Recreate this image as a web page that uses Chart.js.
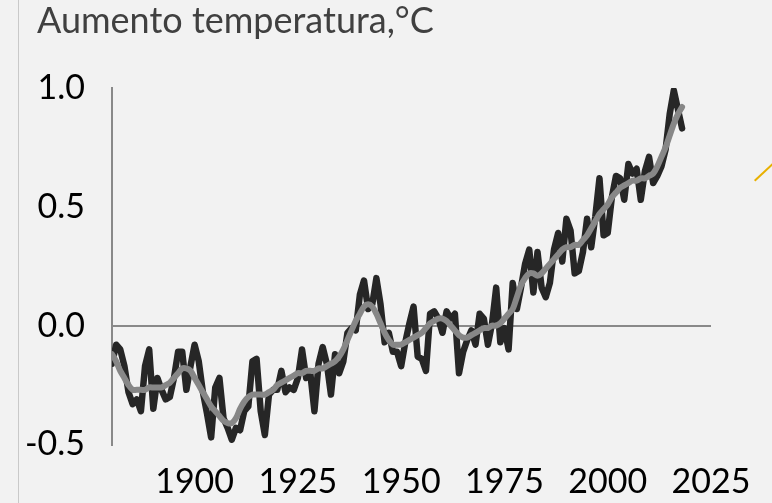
<!DOCTYPE html>
<html>
<head>
<meta charset="utf-8">
<script src="https://cdn.jsdelivr.net/npm/chart.js@4"></script>
<style>
  html, body { margin: 0; padding: 0; background: #f2f2f2; }
  #wrap { position: relative; width: 772px; height: 503px; overflow: hidden; }
  #edge { position: absolute; left: 18px; top: 0; width: 1px; height: 503px; background: #c9c9c9; }
  #mark { position: absolute; left: 754px; top: 180px; width: 25px; height: 1.5px; background: #e8b000; transform: rotate(-43deg); transform-origin: 0 0; }
</style>
</head>
<body>
<div id="wrap">
  <div id="edge"></div>
  <div id="mark"></div>
  <canvas id="tempChart" width="772" height="503"></canvas>
</div>
<script>
// Anomalia annua della temperatura globale (°C), 1880-2018
const anni = [];
for (let a = 1880; a <= 2018; a++) anni.push(a);

const annuale = [
  -0.16, -0.08, -0.10, -0.17, -0.28, -0.33, -0.31, -0.36, -0.17, -0.10,
  -0.35, -0.22, -0.27, -0.31, -0.30, -0.22, -0.11, -0.11, -0.27, -0.17,
  -0.08, -0.15, -0.28, -0.37, -0.47, -0.26, -0.22, -0.39, -0.43, -0.48,
  -0.43, -0.44, -0.36, -0.34, -0.15, -0.14, -0.36, -0.46, -0.29, -0.27,
  -0.27, -0.19, -0.28, -0.26, -0.27, -0.22, -0.10, -0.22, -0.20, -0.36,
  -0.16, -0.09, -0.16, -0.29, -0.12, -0.20, -0.15, -0.03, -0.01, -0.02,
   0.13,  0.19,  0.07,  0.09,  0.20,  0.09, -0.07, -0.03, -0.11, -0.11,
  -0.17, -0.07,  0.01,  0.08, -0.13, -0.14, -0.19,  0.05,  0.06,  0.03,
  -0.03,  0.06,  0.03,  0.05, -0.20, -0.11, -0.06, -0.02, -0.08,  0.05,
   0.03, -0.08,  0.01,  0.16, -0.07, -0.01, -0.10,  0.18,  0.07,  0.16,
   0.26,  0.32,  0.14,  0.31,  0.16,  0.12,  0.18,  0.32,  0.39,  0.27,
   0.45,  0.40,  0.22,  0.23,  0.31,  0.45,  0.33,  0.46,  0.62,  0.38,
   0.39,  0.54,  0.63,  0.62,  0.53,  0.68,  0.64,  0.66,  0.53,  0.65,
   0.71,  0.60,  0.63,  0.67,  0.74,  0.89,  0.99,  0.91,  0.83
];

// Media mobile (lisciata)
const lisciata = [
  -0.12, -0.15, -0.19, -0.22, -0.25, -0.27, -0.27, -0.27, -0.27, -0.26,
  -0.26, -0.26, -0.26, -0.25, -0.24, -0.22, -0.20, -0.18, -0.18, -0.19,
  -0.22, -0.25, -0.28, -0.31, -0.34, -0.36, -0.38, -0.40, -0.41, -0.41,
  -0.39, -0.35, -0.32, -0.30, -0.29, -0.29, -0.29, -0.29, -0.28, -0.27,
  -0.25, -0.24, -0.23, -0.22, -0.21, -0.20, -0.20, -0.19, -0.19, -0.19,
  -0.18, -0.18, -0.17, -0.16, -0.15, -0.13, -0.10, -0.06, -0.02,  0.02,
   0.05,  0.08,  0.09,  0.08,  0.05,  0.01, -0.03, -0.06, -0.08, -0.08,
  -0.08, -0.07, -0.06, -0.05, -0.04, -0.03, -0.01,  0.01,  0.02,  0.03,
   0.03,  0.02,  0.00, -0.02, -0.04, -0.05, -0.05, -0.04, -0.03, -0.02,
  -0.01, -0.01,  0.00,  0.00,  0.01,  0.03,  0.05,  0.07,  0.12,  0.17,
   0.20,  0.22,  0.22,  0.21,  0.22,  0.24,  0.26,  0.28,  0.30,  0.32,
   0.33,  0.33,  0.34,  0.34,  0.36,  0.38,  0.41,  0.44,  0.47,  0.49,
   0.51,  0.54,  0.56,  0.58,  0.59,  0.60,  0.61,  0.61,  0.62,  0.62,
   0.63,  0.64,  0.67,  0.71,  0.75,  0.80,  0.85,  0.89,  0.92
];

const tickAnni = [1900, 1925, 1950, 1975, 2000, 2025];
const tickTemp = [-0.5, 0.0, 0.5, 1.0];
const etichetteTemp = ['-0.5', '0.0', '0.5', '1.0'];

const assi = '#898989';

// sposta il titolo a destra (il titolo di Chart.js si allinea solo al bordo)
const titoloSpostato = {
    id: 'titoloSpostato',
    afterLayout(chart) { chart.titleBlock.left = 37; }
};

const ctx = document.getElementById('tempChart').getContext('2d');
const chart = new Chart(ctx, {
    type: 'line',
    data: {
        labels: anni,
        datasets: [{
            label: 'Lisciata',
            data: anni.map((a, i) => ({ x: a, y: lisciata[i] })),
            borderColor: '#878787',
            borderWidth: 6,
            pointRadius: 0,
            borderJoinStyle: 'round',
            borderCapStyle: 'round',
            tension: 0.3
        }, {
            label: 'Annuale',
            data: anni.map((a, i) => ({ x: a, y: annuale[i] })),
            borderColor: '#262626',
            borderWidth: 6.5,
            pointRadius: 0,
            borderJoinStyle: 'round',
            borderCapStyle: 'round',
            tension: 0
        }]
    },
    plugins: [titoloSpostato],
    options: {
        responsive: false,
        animation: false,
        layout: { padding: { left: 0, right: 61, top: 0, bottom: 0 } },
        plugins: {
            legend: { display: false },
            tooltip: { enabled: false },
            title: {
                display: true,
                text: 'Aumento temperatura,°C',
                align: 'start',
                color: '#404040',
                font: { family: 'Lato', size: 36, weight: 'normal' },
                padding: { top: 0, bottom: 44.8 }
            }
        },
        scales: {
            x: {
                type: 'linear',
                min: 1880,
                max: 2025,
                afterBuildTicks: s => { s.ticks = tickAnni.map(v => ({ value: v })); },
                afterFit: s => { s.height = 58.5; },
                grid: { display: false, drawTicks: false },
                border: { display: false },
                ticks: {
                    color: '#000',
                    font: { family: 'Lato', size: 34 },
                    padding: 17,
                    maxRotation: 0,
                    callback: v => String(v)
                }
            },
            y: {
                min: -0.5,
                max: 1.0,
                afterBuildTicks: s => { s.ticks = tickTemp.map(v => ({ value: v })); },
                afterFit: s => { s.width = 112; },
                grid: {
                    drawTicks: false,
                    lineWidth: 2,
                    color: c => c.tick && c.tick.value === 0 ? assi : 'rgba(0,0,0,0)'
                },
                border: { display: true, color: assi, width: 2 },
                ticks: {
                    color: '#000',
                    font: { family: 'Lato', size: 34 },
                    padding: 27,
                    callback: (v, i) => etichetteTemp[i]
                }
            }
        }
    }
});
</script>
</body>
</html>
